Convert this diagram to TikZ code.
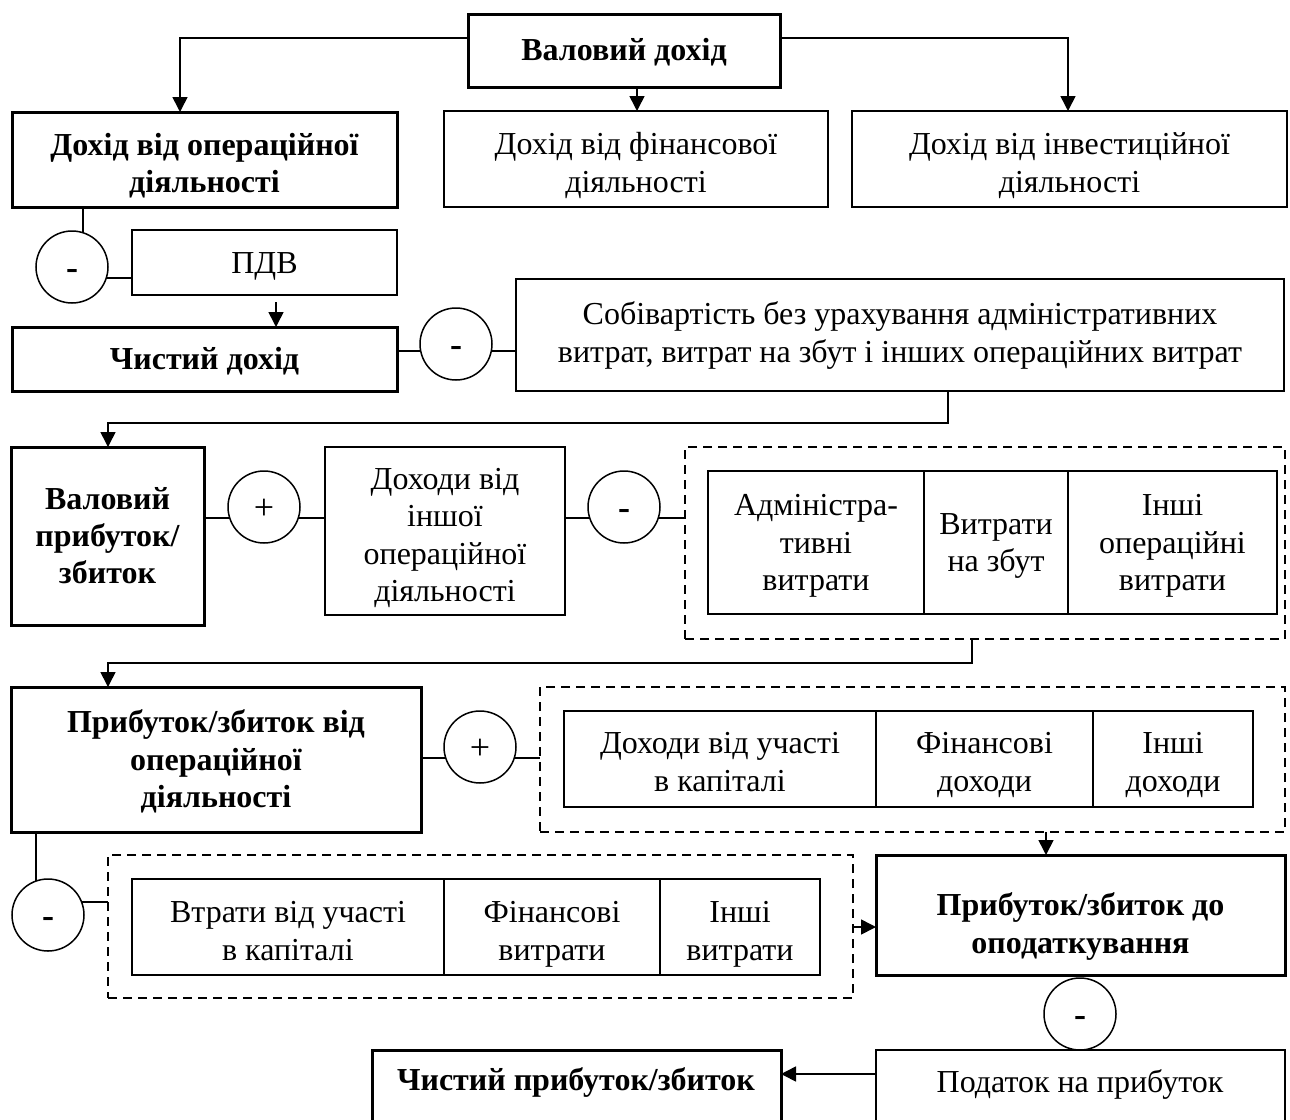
\documentclass[tikz,border=0pt]{standalone}
\usepackage{fontspec}
\setmainfont{Liberation Serif}
\usetikzlibrary{arrows.meta}
\newcommand\bx[8]{\node[#6, minimum width={(#4-#2)*0.5pt}, minimum height={(#5-#3)*0.5pt}] (#1) at ({(#2+#4)/2},{(#3+#5)/2}) {\rule{0pt}{\dimexpr14.6pt+#8\relax}#7\rule[-4.1pt]{0pt}{4.1pt}};}
\newcommand\emptybox[6]{\node[#6, minimum width={(#4-#2)*0.5pt}, minimum height={(#5-#3)*0.5pt}] (#1) at ({(#2+#4)/2},{(#3+#5)/2}) {};}
\begin{document}
\begin{tikzpicture}[x=0.5pt,y=-0.5pt,
  every node/.style={font=\fontsize{16pt}{18.7pt}\selectfont},
  thickbox/.style={draw, line width=1.5pt, inner sep=0pt, outer sep=0pt, align=center, font=\fontsize{16pt}{18.7pt}\selectfont\bfseries},
  thinbox/.style={draw, line width=0.75pt, inner sep=0pt, outer sep=0pt, align=center},
  grp/.style={draw, line width=0.75pt, dash pattern=on 4.5pt off 3pt, inner sep=0pt, outer sep=0pt},
  sign/.style={draw, circle, line width=0.75pt, minimum size=36pt, inner sep=0pt, outer sep=0pt},
  minus/.style={sign, text height=12pt, text depth=0pt, font=\fontsize{18pt}{20pt}\selectfont\bfseries},
  plus/.style={sign, text height=12pt, text depth=0pt, font=\fontsize{18pt}{20pt}\selectfont},
  conn/.style={line width=0.8pt},
  arr/.style={conn, -{Triangle[length=7.5pt,width=7.5pt]}},
  txt/.style={inner sep=0pt, align=center, anchor=base}]
\useasboundingbox (0,0) rectangle (1290,1119);
\clip (0,0) rectangle (1290,1119);
% row 1
\bx{vd}{468}{14}{780}{87}{thickbox}{Валовий дохід}{0pt}
\bx{dop}{12}{112}{397}{207}{thickbox}{Дохід від операційної\\діяльності}{4pt}
\bx{dfin}{444}{111}{828}{207}{thinbox}{Дохід від фінансової\\діяльності}{4pt}
\bx{dinv}{852}{111}{1287}{207}{thinbox}{Дохід від інвестиційної\\діяльності}{4pt}
% row 2
\node[minus] (c1) at (72,267) {-};
\bx{pdv}{132}{230}{397}{295}{thinbox}{ПДВ}{0pt}
\bx{chd}{12}{327}{397}{391}{thickbox}{Чистий дохід}{0pt}
\node[minus] (c2) at (456,344) {-};
\bx{sob}{516}{279}{1284}{391}{thinbox}{Собівартість без урахування адміністративних\\витрат, витрат на збут і інших операційних витрат}{-2pt}
% row 3
\bx{vp}{11}{447}{204}{625}{thickbox}{Валовий\\прибуток/\\збиток}{0pt}
\node[plus] (c3) at (264,507) {+};
\bx{dio}{325}{447}{565}{615}{thinbox}{Доходи від\\іншої\\операційної\\діяльності}{4pt}
\node[minus] (c4) at (624,507) {-};
\emptybox{g1}{685}{447}{1285}{639}{grp}
\bx{t1a}{708}{471}{924}{614}{thinbox}{Адміністра-\\тивні\\витрати}{0pt}
\bx{t1b}{924}{471}{1068}{614}{thinbox}{Витрати\\на збут}{0pt}
\bx{t1c}{1068}{471}{1277}{614}{thinbox}{Інші\\операційні\\витрати}{0pt}
% row 4
\bx{po}{11}{687}{421}{832}{thickbox}{Прибуток/збиток від\\операційної\\діяльності}{0pt}
\node[plus] (c5) at (480,747) {+};
\emptybox{g2}{540}{687}{1285}{832}{grp}
\bx{t2a}{564}{711}{876}{807}{thinbox}{Доходи від участі\\в капіталі}{3pt}
\bx{t2b}{876}{711}{1093}{807}{thinbox}{Фінансові\\доходи}{3pt}
\bx{t2c}{1093}{711}{1253}{807}{thinbox}{Інші\\доходи}{3pt}
% row 5
\node[minus] (c6) at (48,915) {-};
\emptybox{g3}{108}{855}{853}{998}{grp}
\bx{t3a}{132}{879}{444}{975}{thinbox}{Втрати від участі\\в капіталі}{4pt}
\bx{t3b}{444}{879}{660}{975}{thinbox}{Фінансові\\витрати}{4pt}
\bx{t3c}{660}{879}{820}{975}{thinbox}{Інші\\витрати}{4pt}
\bx{pdo}{876}{855}{1285}{975}{thickbox}{Прибуток/збиток до\\оподаткування}{9pt}
\node[minus] (c7) at (1080,1014) {-};
% row 6
\emptybox{pod}{876}{1050}{1285}{1160}{thinbox}
\node[txt] (podt) at (1080,1092) {Податок на прибуток};
\emptybox{chp}{372}{1050}{781}{1160}{thickbox}
\node[txt, font=\fontsize{16pt}{18.7pt}\selectfont\bfseries] (chpt) at (576,1090) {Чистий прибуток/збиток};
% connectors
\coordinate (pdvout) at (276,302);
\draw[arr] (vd.west |- 0,38) -| (dop.north -| 180,0);
\draw[arr] (vd.east |- 0,38) -| (dinv.north -| 1068,0);
\draw[arr] (vd.south -| 637,0) -- (dfin.north -| 637,0);
\draw[conn] (dop.south -| c1.72) -- (c1.72);
\draw[conn] (c1.-18) -- (pdv.west |- c1.-18);
\draw[arr] (pdvout) -- (chd.north -| pdvout);
\draw[conn] (chd.east |- c2.191) -- (c2.191);
\draw[conn] (c2.-11) -- (sob.west |- c2.-11);
\draw[arr] (sob.south -| 948,0) -- ++(0,32) -| (vp.north -| 108,0);
\draw[conn] (vp.east |- c3.198) -- (c3.198);
\draw[conn] (c3.-18) -- (dio.west |- c3.-18);
\draw[conn] (dio.east |- c4.198) -- (c4.198);
\draw[conn] (c4.-18) -- (g1.west |- c4.-18);
\draw[arr] (g1.south -| 972,0) -- ++(0,24) -| (po.north -| 108,0);
\draw[conn] (po.east |- c5.198) -- (c5.198);
\draw[conn] (c5.-18) -- (g2.west |- c5.-18);
\draw[arr] (g2.south -| 1046,0) -- (pdo.north -| 1046,0);
\draw[conn] (po.south -| c6.109.5) -- (c6.109.5);
\draw[conn] (c6.21) -- (g3.west |- c6.21);
\draw[arr] (g3.east |- 0,927) -- (pdo.west |- 0,927);
\draw[arr] (pod.west |- 0,1074) -- (chp.east |- 0,1074);
\end{tikzpicture}
\end{document}
